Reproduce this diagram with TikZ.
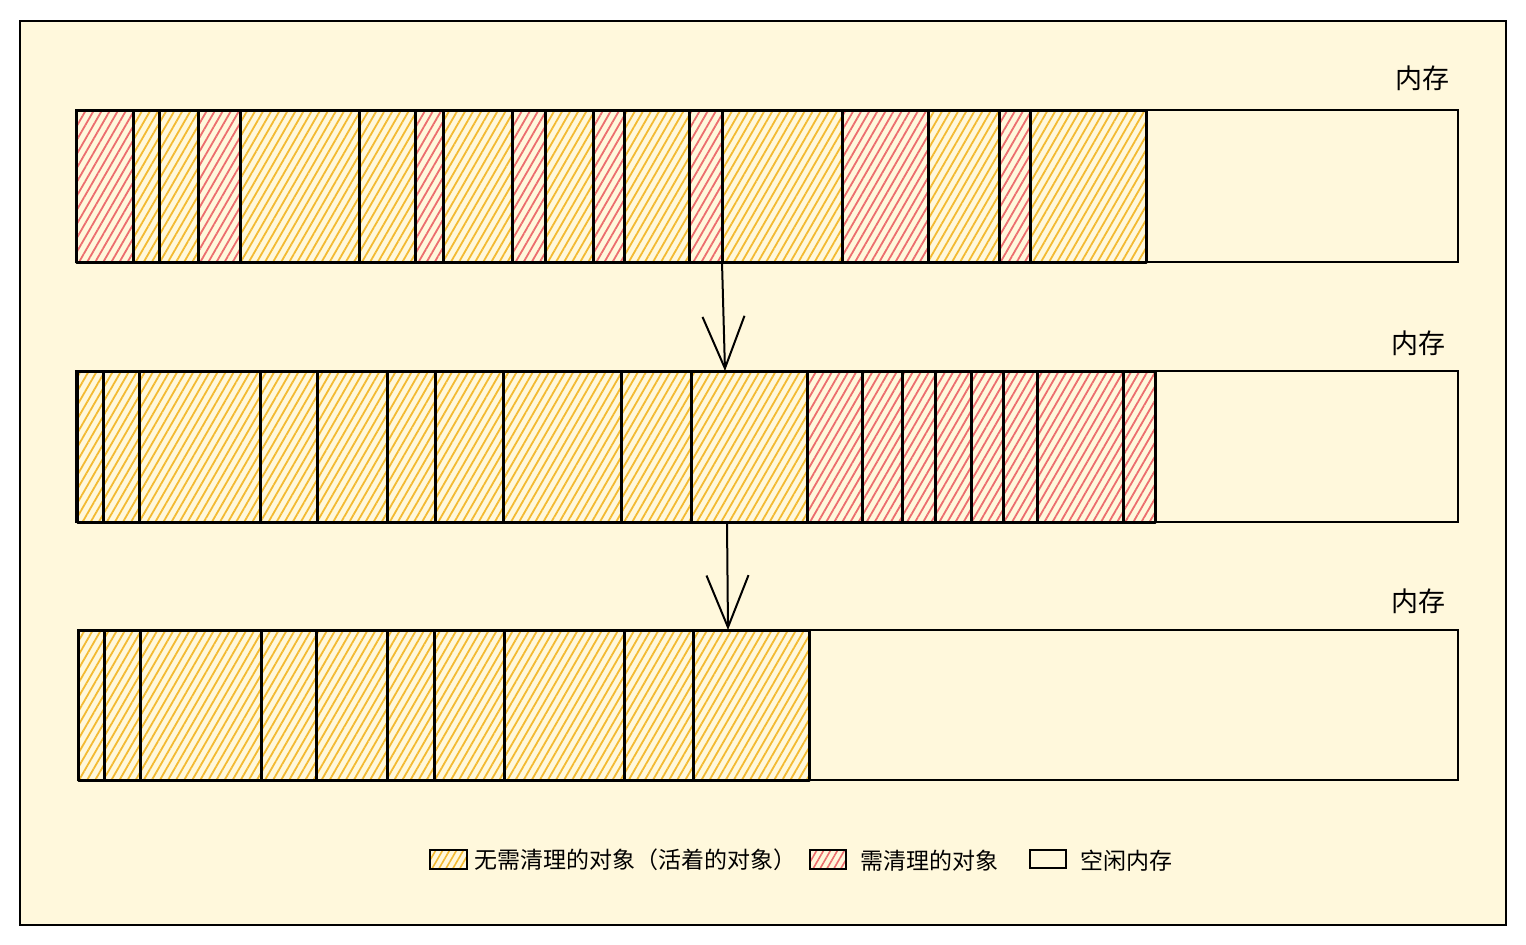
\documentclass[tikz,border=0pt]{standalone}
\usepackage{fontspec}
\newfontfamily\cjk{Noto Sans CJK SC}
\usetikzlibrary{patterns.meta,arrows.meta}
\definecolor{paper}{RGB}{255,248,220}
\definecolor{keep}{RGB}{243,186,50}
\definecolor{drop}{RGB}{236,110,110}
\tikzset{
  frame/.style={draw=black, line width=2.2pt, fill=paper},
  cell/.style={draw=black, line width=3pt, line join=round,
    pattern={Lines[angle=60,distance=7pt,line width=1.8pt]}},
  memory/.style={draw=black, line width=2pt},
  flow/.style={-{Straight Barb[length=52pt,width=42pt,line width=2pt]}, line width=2pt},
  tag/.style={font=\cjk\fontsize{27}{30}\selectfont, inner sep=0pt},
  key/.style={font=\cjk\fontsize{23}{26}\selectfont, inner sep=0pt, anchor=west},
  blank/.style={draw=black, line width=2pt},
  swatch/.style={blank,
    pattern={Lines[angle=60,distance=6pt,line width=1.6pt]}},
}
% segment lists: left/right/colour
\newcommand{\BarOne}{76/133/drop, 133/159/keep, 159/198/keep, 198/240/drop,
  240/359/keep, 359/415/keep, 415/443/drop, 443/512/keep, 512/545/drop,
  545/593/keep, 593/624/drop, 624/689/keep, 689/722/drop, 722/842/keep,
  842/928/drop, 928/999/keep, 999/1030/drop, 1030/1146/keep}
\newcommand{\BarTwo}{77/103/keep, 103/139/keep, 139/260/keep, 260/317/keep,
  317/387/keep, 387/435/keep, 435/503/keep, 503/621/keep, 621/691/keep,
  691/807/keep, 807/862/drop, 862/902/drop, 902/935/drop, 935/971/drop,
  971/1003/drop, 1003/1037/drop, 1037/1123/drop, 1123/1155/drop}
\newcommand{\BarThree}{78/104/keep, 104/140/keep, 140/261/keep, 261/316/keep,
  316/387/keep, 387/434/keep, 434/504/keep, 504/624/keep, 624/693/keep,
  693/809/keep}

\begin{document}
\begin{tikzpicture}[x=1pt, y=-1pt]
    \useasboundingbox (0,0) rectangle (1526,945);
    \draw[frame] (20,21) rectangle (1506,925);

    % memory before marking
    \draw[memory] (76,110) rectangle (1458,262);
    \foreach \a/\b/\c in \BarOne
        \draw[cell, pattern color=\c] (\a,110) rectangle (\b,262);
    \node[tag] (mem1) at (1422,78) {内存};

    % memory after marking
    \draw[memory] (76,371) rectangle (1458,522);
    \foreach \a/\b/\c in \BarTwo
        \draw[cell, pattern color=\c] (\a,371) rectangle (\b,522);
    \node[tag] (mem2) at (1418,343) {内存};

    % memory after sweeping
    \draw[memory] (78,630) rectangle (1458,780);
    \foreach \a/\b/\c in \BarThree
        \draw[cell, pattern color=\c] (\a,630) rectangle (\b,780);
    \node[tag] (mem3) at (1418,601) {内存};

    \coordinate (out1) at (722,262);
    \coordinate (in1) at (725,371);
    \coordinate (out2) at (727,522);
    \coordinate (in2) at (728,630);
    \draw[flow] (out1) -- (in1);
    \draw[flow] (out2) -- (in2);

    % legend
    \draw[swatch, pattern color=keep] (430,850) rectangle (467,869);
    \node[key] (k1) at (474,860) {无需清理的对象（活着的对象）};
    \draw[swatch, pattern color=drop] (810,850) rectangle (846,869);
    \node[key] (k2) at (860,861) {需清理的对象};
    \draw[blank] (1030,850) rectangle (1066,868);
    \node[key] (k3) at (1080,861) {空闲内存};
\end{tikzpicture}
\end{document}
